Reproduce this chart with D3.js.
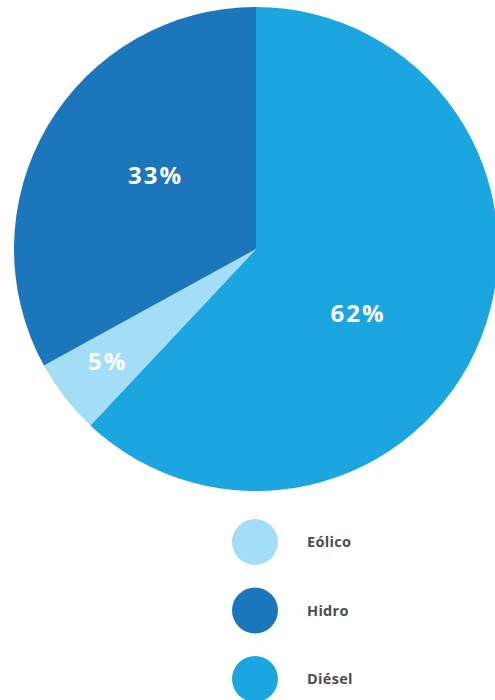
<!DOCTYPE html>
<html>
<head>
<meta charset="utf-8">
<script src="https://cdn.jsdelivr.net/npm/d3@7"></script>
<style>
  html, body { margin: 0; padding: 0; background: #ffffff; }
  svg { display: block; }
  text { font-family: "Open Sans", "Noto Sans", sans-serif; font-weight: 700; }
</style>
</head>
<body>
<svg id="chart" width="495" height="700"></svg>
<script>
// Energy mix by source
const categories = ["Diésel", "Eólico", "Hidro"];
const values = [62, 5, 33];
const colors = ["#1BA6DF", "#A3DDF6", "#1C76BC"];
// Legend order as listed under the pie
const legendOrder = ["Eólico", "Hidro", "Diésel"];

const width = 495, height = 700;
const cx = 256, cy = 249, radius = 242;

const svg = d3.select("#chart");
const g = svg.append("g").attr("transform", `translate(${cx},${cy})`);

const color = d3.scaleOrdinal().domain(categories).range(colors);

const data = categories.map((c, i) => ({ name: c, value: values[i] }));
const pie = d3.pie().value(d => d.value).sort(null);
const arcs = pie(data);

const arc = d3.arc().innerRadius(0).outerRadius(radius);

g.selectAll("path.slice")
  .data(arcs)
  .join("path")
  .attr("class", "slice")
  .attr("d", arc)
  .attr("fill", d => color(d.data.name));

// Label placement inside each slice: fraction of the radius and of the angular span
const labelLayout = { "Diésel": [0.495, 0.549], "Eólico": [0.772, 0.55], "Hidro": [0.518, 0.545] };

g.selectAll("text.pct")
  .data(arcs)
  .join("text")
  .attr("class", "pct")
  .attr("text-anchor", "middle")
  .attr("dy", "0.35em")
  .attr("fill", "#ffffff")
  .attr("font-size", 24)
  .attr("letter-spacing", 2)
  .attr("transform", d => {
    const [rf, tf] = labelLayout[d.data.name];
    const a = d.startAngle + (d.endAngle - d.startAngle) * tf;
    const r = radius * rf;
    return `translate(${r * Math.sin(a) + 1},${-r * Math.cos(a)})`;
  })
  .text(d => d.data.value + "%");

// Legend
const legendY = d3.scalePoint().domain(legendOrder).range([542, 679]);

const legend = svg.append("g");
const items = legend.selectAll("g.item")
  .data(legendOrder)
  .join("g")
  .attr("class", "item")
  .attr("transform", d => `translate(0,${legendY(d)})`);

items.append("circle")
  .attr("cx", 255)
  .attr("r", 23)
  .attr("fill", d => color(d));

items.append("text")
  .attr("x", 307)
  .attr("dy", "0.35em")
  .attr("font-size", 14.5)
  .attr("letter-spacing", 0.3)
  .attr("fill", "#4D4D4D")
  .text(d => d);
</script>
</body>
</html>
